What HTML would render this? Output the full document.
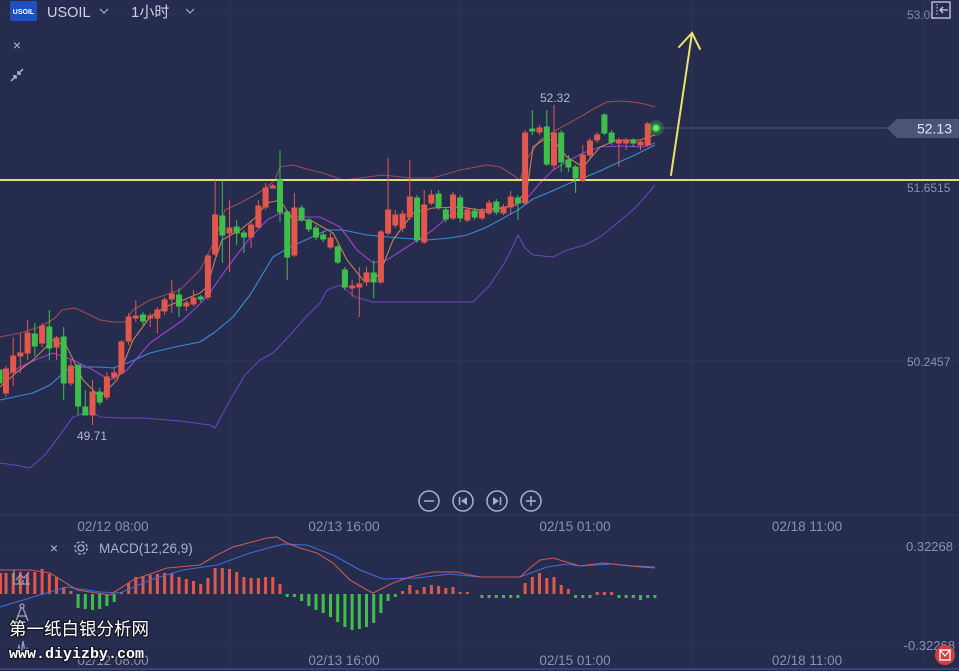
<!DOCTYPE html>
<html><head><meta charset="utf-8">
<style>
html,body{margin:0;padding:0;background:#262c4d;}
svg{display:block;}
text{font-family:"Liberation Sans","Noto Sans CJK SC",sans-serif;}
</style></head>
<body>
<svg width="959" height="671" viewBox="0 0 959 671" xmlns="http://www.w3.org/2000/svg">
<rect width="959" height="671" fill="#262c4d"/>
<g stroke="#2e355a" stroke-width="1" fill="none">
<line x1="230" y1="0" x2="230" y2="668"/>
<line x1="461" y1="0" x2="461" y2="668"/>
<line x1="692" y1="0" x2="692" y2="668"/>
<line x1="923" y1="0" x2="923" y2="668"/>
<line x1="0" y1="14" x2="959" y2="14"/>
<line x1="0" y1="361" x2="959" y2="361"/>
<line x1="0" y1="546" x2="959" y2="546"/>
<line x1="0" y1="645" x2="959" y2="645"/>
</g>
<line x1="0" y1="515" x2="959" y2="515" stroke="#303760" stroke-width="1"/>
<line x1="0" y1="669" x2="959" y2="669" stroke="#3a4270" stroke-width="2"/>

<rect x="10" y="1" width="27" height="20" rx="2" fill="#1f4fc0"/>
<text x="23.5" y="14" font-size="7" font-weight="bold" fill="#fff" text-anchor="middle">USOIL</text>
<text x="47" y="17" font-size="14.5" fill="#cdd2e4">USOIL</text>
<polyline points="100,9 104,13 108,9" fill="none" stroke="#9aa1bd" stroke-width="1.3"/>
<text x="131" y="17" font-size="15" fill="#cdd2e4">1小时</text>
<polyline points="186,9 190,13 194,9" fill="none" stroke="#9aa1bd" stroke-width="1.3"/>
<text x="17" y="50" font-size="14" fill="#b5bbd2" text-anchor="middle">×</text>
<g stroke="#b5bbd2" stroke-width="1.4" fill="none">
<line x1="11" y1="81" x2="16" y2="76"/><polyline points="13,76 16,76 16,79"/>
<line x1="23" y1="69" x2="18" y2="74"/><polyline points="18,71 18,74 21,74"/>
</g>

<text x="907" y="19" font-size="12" fill="#7f88a8">53.05</text>
<text x="907" y="192" font-size="12" fill="#8a92b0">51.6515</text>
<text x="907" y="366" font-size="12" fill="#8a92b0">50.2457</text>
<rect x="932" y="2" width="18" height="16" fill="#262c4d" stroke="#c8cce0" stroke-width="1.3"/>
<line x1="937" y1="4" x2="937" y2="16" stroke="#c8cce0" stroke-width="1" stroke-dasharray="1.5,1.5"/>
<polyline points="948,10 940,10" stroke="#c8cce0" stroke-width="1.3"/>
<polyline points="943,7 940,10 943,13" fill="none" stroke="#c8cce0" stroke-width="1.3"/>

<g fill="none" stroke-width="1.1" stroke-linejoin="round">
<polyline stroke="#9a4d55" points="0,337 20,333 40,327 55,318 62,310 75,308 90,315 100,320 113,322 125,322 133,310 150,300 180,290 200,270 215,240 225,210 240,203 255,195 267,187 275,180 280,167 293,165 310,170 323,173 343,180 360,178 383,175 410,178 433,178 460,170 487,165 500,167 510,173 520,180 526,160 540,140 560,128 580,117 595,108 607,102 620,101 633,102 645,104 655,107"/>
<polyline stroke="#6b44c0" points="0,463 15,465 30,468 45,455 60,435 73,417 85,413 93,413 100,417 120,418 143,418 180,421 210,425 215,428 230,400 245,375 260,360 273,353 290,335 305,318 320,303 327,290 340,285 355,297 373,302 420,302 473,302 490,285 505,262 512,248 518,235 525,248 533,255 553,257 567,250 585,245 600,237 615,225 633,210 645,197 655,185"/>
<polyline stroke="#3e8ad6" points="0,400 33,393 50,385 67,370 77,367 100,367 113,368 130,362 150,353 175,347 200,342 215,332 233,317 250,295 273,257 290,247 310,238 327,230 343,230 367,235 400,238 427,240 450,238 467,235 485,228 500,220 518,210 533,199 550,192 570,183 583,178 600,171 617,163 635,155 655,145"/>
<polyline stroke="#a040d6" points="0,380 20,367 35,360 53,353 73,360 93,370 110,380 127,370 150,343 183,320 207,297 220,278 233,260 250,238 267,220 280,213 300,217 320,217 340,227 357,250 373,263 387,260 407,247 433,230 450,215 483,212 517,205 530,195 540,183 553,170 570,160 583,153 600,147 620,146 643,147 655,143"/>
<polyline stroke="#c98155" points="0,387 17,372 33,360 53,340 67,347 83,380 100,397 117,380 133,340 150,317 165,307 183,300 200,293 207,287 215,260 222,240 240,230 255,218 267,203 280,200 293,220 310,220 333,233 347,260 363,280 373,280 380,273 393,240 413,213 433,208 460,207 480,210 500,208 515,205 527,190 533,147 543,140 553,140 567,157 583,167 600,147 617,140 640,140 655,135"/>
</g>

<line x1="0" y1="180" x2="959" y2="180" stroke="#e3dc7a" stroke-width="2"/>

<g stroke="#e2574c" stroke-width="1" fill="#e2574c">
<line x1="6" y1="366" x2="6" y2="397"/><rect x="3.5" y="369" width="5" height="24"/>
<line x1="13.2" y1="337" x2="13.2" y2="386"/><rect x="10.7" y="356" width="5" height="16"/>
<line x1="20.4" y1="333" x2="20.4" y2="373"/><rect x="17.9" y="353" width="5" height="3"/>
<line x1="27.6" y1="320" x2="27.6" y2="360"/><rect x="25.1" y="333" width="5" height="20"/>
<line x1="42.1" y1="323" x2="42.1" y2="347"/><rect x="39.6" y="326" width="5" height="17"/>
<line x1="56.5" y1="336" x2="56.5" y2="360"/><rect x="54" y="338" width="5" height="9"/>
<line x1="70.9" y1="360" x2="70.9" y2="386"/><rect x="68.4" y="366" width="5" height="17"/>
<line x1="92.5" y1="380" x2="92.5" y2="425"/><rect x="90" y="392" width="5" height="23"/>
<line x1="106.9" y1="372" x2="106.9" y2="400"/><rect x="104.4" y="377" width="5" height="20"/>
<line x1="114.2" y1="368" x2="114.2" y2="380"/><rect x="111.7" y="373" width="5" height="4"/>
<line x1="121.4" y1="340" x2="121.4" y2="375"/><rect x="118.9" y="342" width="5" height="31"/>
<line x1="128.6" y1="313" x2="128.6" y2="345"/><rect x="126.1" y="317" width="5" height="24"/>
<line x1="135.8" y1="300" x2="135.8" y2="322"/><rect x="133.3" y="316" width="5" height="2"/>
<line x1="150.2" y1="313" x2="150.2" y2="327"/><rect x="147.7" y="316" width="5" height="2"/>
<line x1="157.4" y1="307" x2="157.4" y2="333"/><rect x="154.9" y="310" width="5" height="8"/>
<line x1="164.6" y1="297" x2="164.6" y2="315"/><rect x="162.1" y="300" width="5" height="11"/>
<line x1="171.8" y1="280" x2="171.8" y2="313"/><rect x="169.3" y="294" width="5" height="5"/>
<line x1="186.3" y1="300" x2="186.3" y2="311"/><rect x="183.8" y="303" width="5" height="3"/>
<line x1="193.5" y1="290" x2="193.5" y2="306"/><rect x="191" y="298" width="5" height="6"/>
<line x1="207.9" y1="255" x2="207.9" y2="300"/><rect x="205.4" y="256" width="5" height="41"/>
<line x1="215.1" y1="180" x2="215.1" y2="256"/><rect x="212.6" y="215" width="5" height="39"/>
<line x1="229.5" y1="200" x2="229.5" y2="272"/><rect x="227" y="228" width="5" height="5"/>
<line x1="251.1" y1="220" x2="251.1" y2="248"/><rect x="248.6" y="225" width="5" height="12"/>
<line x1="258.4" y1="200" x2="258.4" y2="228"/><rect x="255.9" y="206" width="5" height="21"/>
<line x1="265.6" y1="183" x2="265.6" y2="210"/><rect x="263.1" y="188" width="5" height="19"/>
<line x1="272.8" y1="184" x2="272.8" y2="188"/><rect x="270.3" y="186" width="5" height="2"/>
<line x1="294.4" y1="193" x2="294.4" y2="257"/><rect x="291.9" y="208" width="5" height="47"/>
<line x1="330.5" y1="233" x2="330.5" y2="249"/><rect x="328" y="238" width="5" height="9"/>
<line x1="352.1" y1="280" x2="352.1" y2="297"/><rect x="349.6" y="286" width="5" height="2"/>
<line x1="359.3" y1="267" x2="359.3" y2="317"/><rect x="356.8" y="284" width="5" height="3"/>
<line x1="366.5" y1="267" x2="366.5" y2="286"/><rect x="364" y="273" width="5" height="9"/>
<line x1="380.9" y1="230" x2="380.9" y2="284"/><rect x="378.4" y="232" width="5" height="50"/>
<line x1="388.1" y1="158" x2="388.1" y2="235"/><rect x="385.6" y="210" width="5" height="23"/>
<line x1="395.3" y1="210" x2="395.3" y2="228"/><rect x="392.8" y="215" width="5" height="10"/>
<line x1="402.6" y1="210" x2="402.6" y2="232"/><rect x="400.1" y="214" width="5" height="14"/>
<line x1="409.8" y1="160" x2="409.8" y2="220"/><rect x="407.3" y="197" width="5" height="20"/>
<line x1="424.2" y1="190" x2="424.2" y2="244"/><rect x="421.7" y="205" width="5" height="37"/>
<line x1="431.4" y1="190" x2="431.4" y2="205"/><rect x="428.9" y="195" width="5" height="8"/>
<line x1="453" y1="192" x2="453" y2="220"/><rect x="450.5" y="195" width="5" height="23"/>
<line x1="467.4" y1="207" x2="467.4" y2="222"/><rect x="464.9" y="210" width="5" height="10"/>
<line x1="481.9" y1="208" x2="481.9" y2="220"/><rect x="479.4" y="211" width="5" height="7"/>
<line x1="489.1" y1="200" x2="489.1" y2="215"/><rect x="486.6" y="203" width="5" height="10"/>
<line x1="503.5" y1="204" x2="503.5" y2="215"/><rect x="501" y="207" width="5" height="6"/>
<line x1="510.7" y1="191" x2="510.7" y2="215"/><rect x="508.2" y="197" width="5" height="10"/>
<line x1="525.1" y1="130" x2="525.1" y2="205"/><rect x="522.6" y="133" width="5" height="70"/>
<line x1="539.5" y1="125" x2="539.5" y2="135"/><rect x="537" y="128" width="5" height="4"/>
<line x1="554" y1="105" x2="554" y2="170"/><rect x="551.5" y="133" width="5" height="32"/>
<line x1="582.8" y1="145" x2="582.8" y2="182"/><rect x="580.3" y="155" width="5" height="25"/>
<line x1="590" y1="138" x2="590" y2="158"/><rect x="587.5" y="141" width="5" height="14"/>
<line x1="597.2" y1="132" x2="597.2" y2="143"/><rect x="594.7" y="135" width="5" height="5"/>
<line x1="618.9" y1="138" x2="618.9" y2="167"/><rect x="616.4" y="140" width="5" height="3"/>
<line x1="626.1" y1="138" x2="626.1" y2="150"/><rect x="623.6" y="140" width="5" height="3"/>
<line x1="640.5" y1="140" x2="640.5" y2="150"/><rect x="638" y="142" width="5" height="3"/>
<line x1="647.7" y1="122" x2="647.7" y2="147"/><rect x="645.2" y="124" width="5" height="21"/>
</g>
<g stroke="#3fbf4a" stroke-width="1" fill="#3fbf4a">
<rect x="-3" y="370" width="5" height="13"/>
<line x1="34.8" y1="323" x2="34.8" y2="356"/><rect x="32.3" y="334" width="5" height="12"/>
<line x1="49.3" y1="310" x2="49.3" y2="360"/><rect x="46.8" y="327" width="5" height="21"/>
<line x1="63.7" y1="327" x2="63.7" y2="400"/><rect x="61.2" y="337" width="5" height="46"/>
<line x1="78.1" y1="365" x2="78.1" y2="415"/><rect x="75.6" y="365" width="5" height="41"/>
<line x1="85.3" y1="390" x2="85.3" y2="415"/><rect x="82.8" y="407" width="5" height="8"/>
<line x1="99.7" y1="388" x2="99.7" y2="405"/><rect x="97.2" y="392" width="5" height="10"/>
<line x1="143" y1="312" x2="143" y2="325"/><rect x="140.5" y="315" width="5" height="6"/>
<line x1="179" y1="288" x2="179" y2="317"/><rect x="176.5" y="295" width="5" height="11"/>
<line x1="200.7" y1="295" x2="200.7" y2="302"/><rect x="198.2" y="297" width="5" height="2"/>
<line x1="222.3" y1="180" x2="222.3" y2="263"/><rect x="219.8" y="216" width="5" height="19"/>
<line x1="236.7" y1="220" x2="236.7" y2="245"/><rect x="234.2" y="227" width="5" height="6"/>
<line x1="243.9" y1="230" x2="243.9" y2="253"/><rect x="241.4" y="233" width="5" height="4"/>
<line x1="280" y1="150" x2="280" y2="222"/><rect x="277.5" y="180" width="5" height="32"/>
<line x1="287.2" y1="210" x2="287.2" y2="280"/><rect x="284.7" y="212" width="5" height="45"/>
<line x1="301.6" y1="205" x2="301.6" y2="222"/><rect x="299.1" y="208" width="5" height="12"/>
<line x1="308.8" y1="218" x2="308.8" y2="232"/><rect x="306.3" y="220" width="5" height="9"/>
<line x1="316" y1="225" x2="316" y2="240"/><rect x="313.5" y="228" width="5" height="9"/>
<line x1="323.2" y1="232" x2="323.2" y2="242"/><rect x="320.7" y="235" width="5" height="4"/>
<line x1="337.7" y1="245" x2="337.7" y2="264"/><rect x="335.2" y="247" width="5" height="15"/>
<line x1="344.9" y1="267" x2="344.9" y2="290"/><rect x="342.4" y="270" width="5" height="17"/>
<line x1="373.7" y1="260" x2="373.7" y2="298"/><rect x="371.2" y="273" width="5" height="9"/>
<line x1="417" y1="195" x2="417" y2="243"/><rect x="414.5" y="198" width="5" height="42"/>
<line x1="438.6" y1="190" x2="438.6" y2="210"/><rect x="436.1" y="194" width="5" height="13"/>
<line x1="445.8" y1="207" x2="445.8" y2="222"/><rect x="443.3" y="210" width="5" height="9"/>
<line x1="460.2" y1="195" x2="460.2" y2="222"/><rect x="457.7" y="198" width="5" height="20"/>
<line x1="474.7" y1="208" x2="474.7" y2="220"/><rect x="472.2" y="211" width="5" height="6"/>
<line x1="496.3" y1="199" x2="496.3" y2="215"/><rect x="493.8" y="202" width="5" height="10"/>
<line x1="517.9" y1="195" x2="517.9" y2="220"/><rect x="515.4" y="198" width="5" height="5"/>
<line x1="532.3" y1="110" x2="532.3" y2="135"/><rect x="529.8" y="129" width="5" height="2"/>
<line x1="546.8" y1="110" x2="546.8" y2="166"/><rect x="544.3" y="127" width="5" height="37"/>
<line x1="561.2" y1="130" x2="561.2" y2="172"/><rect x="558.7" y="133" width="5" height="29"/>
<line x1="568.4" y1="155" x2="568.4" y2="172"/><rect x="565.9" y="160" width="5" height="7"/>
<line x1="575.6" y1="165" x2="575.6" y2="193"/><rect x="573.1" y="167" width="5" height="11"/>
<line x1="604.4" y1="113" x2="604.4" y2="135"/><rect x="601.9" y="115" width="5" height="18"/>
<line x1="611.6" y1="130" x2="611.6" y2="145"/><rect x="609.1" y="133" width="5" height="9"/>
<line x1="633.3" y1="138" x2="633.3" y2="147"/><rect x="630.8" y="141" width="5" height="2"/>
</g>

<text x="555" y="102" font-size="12" fill="#b3b9d0" text-anchor="middle">52.32</text>
<text x="92" y="440" font-size="12" fill="#b3b9d0" text-anchor="middle">49.71</text>

<line x1="660" y1="128" x2="888" y2="128" stroke="#4b5477" stroke-width="1"/>
<polygon points="887,128 897,119 959,119 959,138 897,138" fill="#4b5477"/>
<text x="952" y="133.5" font-size="14" fill="#e3e6f2" text-anchor="end">52.13</text>
<circle cx="656" cy="128" r="8" fill="#3fd04a" opacity="0.25"/>
<circle cx="656" cy="128" r="5" fill="#3fd04a" opacity="0.45"/>
<circle cx="656" cy="128" r="3" fill="#5df060"/>

<g stroke="#ece46a" stroke-width="2" fill="none" stroke-linecap="round">
<line x1="671" y1="175" x2="692" y2="33"/>
<polyline points="679,47 692,33 700,49"/>
</g>

<g stroke="#a9b0cc" stroke-width="1.5" fill="none">
<circle cx="429" cy="501" r="10"/>
<circle cx="463" cy="501" r="10"/>
<circle cx="497" cy="501" r="10"/>
<circle cx="531" cy="501" r="10"/>
<line x1="424" y1="501" x2="434" y2="501"/>
<line x1="526" y1="501" x2="536" y2="501"/>
<line x1="531" y1="496" x2="531" y2="506"/>
<line x1="459.5" y1="497" x2="459.5" y2="505"/>
<line x1="500.5" y1="497" x2="500.5" y2="505"/>
</g>
<polygon points="467,497 467,505 461,501" fill="#a9b0cc"/>
<polygon points="493,497 493,505 499,501" fill="#a9b0cc"/>

<g font-size="13.5" fill="#8a92b0" text-anchor="middle">
<text x="113" y="531">02/12 08:00</text>
<text x="344" y="531">02/13 16:00</text>
<text x="575" y="531">02/15 01:00</text>
<text x="807" y="531">02/18 11:00</text>
<text x="113" y="665">02/12 08:00</text>
<text x="344" y="665">02/13 16:00</text>
<text x="575" y="665">02/15 01:00</text>
<text x="807" y="665">02/18 11:00</text>
</g>

<text x="54" y="553" font-size="14" fill="#b5bbd2" text-anchor="middle">×</text>
<g transform="translate(81,548)" fill="none" stroke="#a9b0cc" stroke-width="1.3">
<circle r="3"/>
<circle r="6.2" stroke-dasharray="3,1.9"/>
</g>
<text x="99" y="553" font-size="13.5" fill="#a9b0cc">MACD(12,26,9)</text>
<text x="953" y="551" font-size="13" fill="#8a92b0" text-anchor="end">0.32268</text>
<text x="955" y="650" font-size="13" fill="#8a92b0" text-anchor="end">-0.32268</text>

<g fill="#e2574c">
<rect x="-1" y="573" width="3" height="21"/>
<rect x="4.5" y="573" width="3" height="21"/>
<rect x="11.7" y="573" width="3" height="21"/>
<rect x="18.9" y="572" width="3" height="22"/>
<rect x="26.1" y="574" width="3" height="20"/>
<rect x="33.3" y="572" width="3" height="22"/>
<rect x="40.6" y="569" width="3" height="25"/>
<rect x="47.8" y="574" width="3" height="20"/>
<rect x="55" y="577" width="3" height="17"/>
<rect x="62.2" y="587" width="3" height="7"/>
<rect x="69.4" y="591" width="3" height="3"/>
<rect x="119.9" y="592" width="3" height="2"/>
<rect x="127.1" y="583" width="3" height="11"/>
<rect x="134.3" y="577" width="3" height="17"/>
<rect x="141.5" y="576" width="3" height="18"/>
<rect x="148.7" y="575" width="3" height="19"/>
<rect x="155.9" y="574" width="3" height="20"/>
<rect x="163.1" y="573" width="3" height="21"/>
<rect x="170.3" y="573" width="3" height="21"/>
<rect x="177.5" y="577" width="3" height="17"/>
<rect x="184.8" y="579" width="3" height="15"/>
<rect x="192" y="581" width="3" height="13"/>
<rect x="199.2" y="584" width="3" height="10"/>
<rect x="206.4" y="578" width="3" height="16"/>
<rect x="213.6" y="568" width="3" height="26"/>
<rect x="220.8" y="568" width="3" height="26"/>
<rect x="228" y="569" width="3" height="25"/>
<rect x="235.2" y="572" width="3" height="22"/>
<rect x="242.4" y="577" width="3" height="17"/>
<rect x="249.6" y="578" width="3" height="16"/>
<rect x="256.9" y="578" width="3" height="16"/>
<rect x="264.1" y="577" width="3" height="17"/>
<rect x="271.3" y="577" width="3" height="17"/>
<rect x="278.5" y="584" width="3" height="10"/>
<rect x="401.1" y="591" width="3" height="3"/>
<rect x="408.3" y="585" width="3" height="9"/>
<rect x="415.5" y="590" width="3" height="4"/>
<rect x="422.7" y="587" width="3" height="7"/>
<rect x="429.9" y="585" width="3" height="9"/>
<rect x="437.1" y="586" width="3" height="8"/>
<rect x="444.3" y="588" width="3" height="6"/>
<rect x="451.5" y="587" width="3" height="7"/>
<rect x="458.7" y="592" width="3" height="2"/>
<rect x="465.9" y="592" width="3" height="2"/>
<rect x="523.6" y="583" width="3" height="11"/>
<rect x="530.8" y="577" width="3" height="17"/>
<rect x="538" y="573" width="3" height="21"/>
<rect x="545.3" y="578" width="3" height="16"/>
<rect x="552.5" y="577" width="3" height="17"/>
<rect x="559.7" y="585" width="3" height="9"/>
<rect x="566.9" y="589" width="3" height="5"/>
<rect x="595.7" y="592" width="3" height="3"/>
<rect x="602.9" y="592" width="3" height="3"/>
<rect x="610.1" y="592" width="3" height="3"/>
</g>
<g fill="#3fbf4a">
<rect x="76.6" y="594" width="3" height="14"/>
<rect x="83.8" y="594" width="3" height="15"/>
<rect x="91" y="594" width="3" height="16"/>
<rect x="98.2" y="594" width="3" height="15"/>
<rect x="105.4" y="594" width="3" height="12"/>
<rect x="112.7" y="594" width="3" height="8"/>
<rect x="285.7" y="594" width="3" height="3"/>
<rect x="292.9" y="594" width="3" height="3"/>
<rect x="300.1" y="594" width="3" height="7"/>
<rect x="307.3" y="594" width="3" height="12"/>
<rect x="314.5" y="594" width="3" height="16"/>
<rect x="321.7" y="594" width="3" height="19"/>
<rect x="329" y="594" width="3" height="23"/>
<rect x="336.2" y="594" width="3" height="28"/>
<rect x="343.4" y="594" width="3" height="33"/>
<rect x="350.6" y="594" width="3" height="36"/>
<rect x="357.8" y="594" width="3" height="35"/>
<rect x="365" y="594" width="3" height="33"/>
<rect x="372.2" y="594" width="3" height="29"/>
<rect x="379.4" y="594" width="3" height="19"/>
<rect x="386.6" y="594" width="3" height="7"/>
<rect x="393.8" y="594" width="3" height="3"/>
<rect x="480.4" y="595" width="3" height="3"/>
<rect x="487.6" y="595" width="3" height="3"/>
<rect x="494.8" y="595" width="3" height="3"/>
<rect x="502" y="595" width="3" height="3"/>
<rect x="509.2" y="595" width="3" height="3"/>
<rect x="516.4" y="595" width="3" height="3"/>
<rect x="574.1" y="595" width="3" height="3"/>
<rect x="581.3" y="595" width="3" height="3"/>
<rect x="588.5" y="595" width="3" height="3"/>
<rect x="617.4" y="595" width="3" height="3"/>
<rect x="624.6" y="595" width="3" height="3"/>
<rect x="631.8" y="595" width="3" height="3"/>
<rect x="639" y="595" width="3" height="5"/>
<rect x="646.2" y="595" width="3" height="3"/>
<rect x="653.4" y="595" width="3" height="3"/>
</g>
<g fill="none" stroke-width="1.1">
<polyline stroke="#3f6fd0" points="0,607 33,597 67,587 100,592 120,593 150,580 183,570 217,565 250,553 283,544 307,545 333,555 360,570 383,579 417,578 450,574 480,577 520,577 547,567 567,564 580,566 613,564 633,566 655,567"/>
<polyline stroke="#c65a5a" points="0,570 30,570 50,573 77,590 110,595 133,580 167,568 200,565 217,555 233,547 267,538 277,537 287,543 300,548 317,553 333,563 350,580 367,590 373,593 393,583 410,577 433,572 457,572 480,577 520,577 530,568 540,560 553,558 570,563 580,566 603,563 630,566 655,568"/>
</g>

<g stroke="#9aa0b8" stroke-width="1.3" fill="none">
<polyline points="14,570 14,584 30,584"/>
<polyline points="16,580 20,575 24,578 29,572"/>
<line x1="19" y1="584" x2="19" y2="579"/><line x1="23" y1="584" x2="23" y2="580"/><line x1="27" y1="584" x2="27" y2="577"/>
<circle cx="22" cy="606" r="2"/>
<line x1="21" y1="608" x2="16" y2="621"/><line x1="23" y1="608" x2="28" y2="621"/>
<line x1="17" y1="616" x2="27" y2="616"/>
<polyline points="13,652 17,652 19,646 21,655 23,641 25,652 27,648 30,652"/>
</g>

<g fill="#ffffff" stroke="#15182a" stroke-width="2.5" paint-order="stroke">
<text x="9" y="635" font-size="17.5" style="font-family:'Noto Sans CJK SC','WenQuanYi Zen Hei',sans-serif">第一纸白银分析网</text>
<text x="9" y="658" font-size="15" font-weight="bold" style="font-family:'Liberation Mono',monospace">www.diyizby.com</text>
</g>

<circle cx="945" cy="655" r="10" fill="#d63e3e"/>
<rect x="940" y="650" width="10" height="10" fill="none" stroke="#fff" stroke-width="1.3"/>
<polyline points="940,650 945,656 950,650" fill="none" stroke="#fff" stroke-width="1.2"/>
</svg>
</body></html>
